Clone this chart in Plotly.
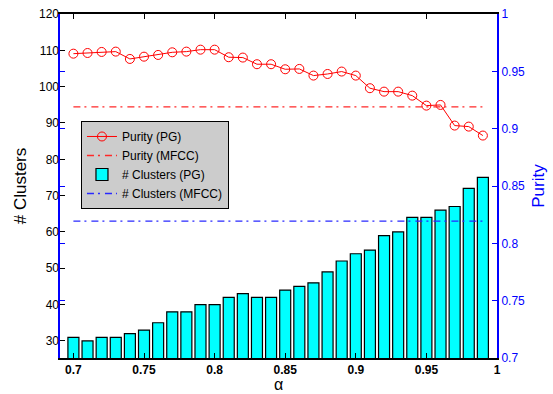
import plotly.graph_objects as go

alpha = [0.70, 0.71, 0.72, 0.73, 0.74, 0.75, 0.76, 0.77, 0.78, 0.79,
         0.80, 0.81, 0.82, 0.83, 0.84, 0.85, 0.86, 0.87, 0.88, 0.89,
         0.90, 0.91, 0.92, 0.93, 0.94, 0.95, 0.96, 0.97, 0.98, 0.99]
clusters_pg = [31, 30, 31, 31, 32, 33, 35, 38, 38, 40,
               40, 42, 43, 42, 42, 44, 45, 46, 49, 52,
               54, 55, 59, 60, 64, 64, 66, 67, 72, 75]
purity_pg = [0.9654, 0.9660, 0.9669, 0.9672, 0.9608, 0.9628, 0.9643, 0.9666, 0.9672, 0.9689,
             0.9689, 0.9623, 0.9620, 0.9562, 0.9562, 0.9518, 0.9521, 0.9463, 0.9477, 0.9498,
             0.9463, 0.9353, 0.9323, 0.9323, 0.9288, 0.9201, 0.9207, 0.9027, 0.9018, 0.8940]
purity_mfcc = 0.919
clusters_mfcc = 63

x_ticks = [0.7, 0.75, 0.8, 0.85, 0.9, 0.95, 1.0]
x_ticktext = ["0.7", "0.75", "0.8", "0.85", "0.9", "0.95", "1"]
left_ticks = [30, 40, 50, 60, 70, 80, 90, 100, 110, 120]
right_ticks = [0.7, 0.75, 0.8, 0.85, 0.9, 0.95, 1.0]
right_ticktext = ["0.7", "0.75", "0.8", "0.85", "0.9", "0.95", "1"]

dashdot = "7px,4px,2px,5px"
FONT = "Liberation Sans, Arial, sans-serif"

fig = go.Figure()
fig.add_trace(go.Scatter(
    x=alpha, y=purity_pg, yaxis="y2", name="Purity (PG)", mode="lines+markers",
    line=dict(color="rgb(255,0,0)", width=1),
    marker=dict(symbol="circle-open", size=9, color="rgb(255,0,0)", line=dict(width=1)),
))
fig.add_trace(go.Scatter(
    x=[alpha[0], alpha[-1]], y=[purity_mfcc, purity_mfcc], yaxis="y2",
    name="Purity (MFCC)", mode="lines",
    line=dict(color="rgb(255,40,40)", width=1.3, dash=dashdot),
))
fig.add_trace(go.Bar(
    x=alpha, y=clusters_pg, name="# Clusters (PG)", width=0.0078,
    marker=dict(color="rgb(0,255,255)", line=dict(color="rgb(0,0,0)", width=1.2)),
))
fig.add_trace(go.Scatter(
    x=[alpha[0], alpha[-1]], y=[clusters_mfcc, clusters_mfcc],
    name="# Clusters (MFCC)", mode="lines",
    line=dict(color="rgb(40,40,255)", width=1.3, dash=dashdot),
))

fig.update_layout(
    width=553, height=394,
    margin=dict(l=60, r=56, t=14, b=36, autoexpand=False),
    paper_bgcolor="white", plot_bgcolor="white",
    font=dict(family=FONT, size=12, color="#000000"),
    showlegend=True,
    legend=dict(
        x=0.048, y=0.689, xanchor="left", yanchor="top",
        bgcolor="#cccccc", bordercolor="#000000", borderwidth=1,
        font=dict(family=FONT, size=12, color="#000000"),
        traceorder="normal",
    ),
    xaxis=dict(
        range=[0.6905, 1.0], tickvals=x_ticks,
        ticktext=["<b>%s</b>" % t for t in x_ticktext],
        ticks="inside", ticklen=5, tickcolor="#000000",
        showline=True, linecolor="#000000", linewidth=1.5, mirror="ticks",
        showgrid=False, zeroline=False, automargin=False,
        tickfont=dict(family=FONT, size=12, color="#000000"),
    ),
    yaxis=dict(
        range=[25.3, 120], tickvals=left_ticks,
        ticks="inside", ticklen=5, tickcolor="#000000",
        showline=False, showgrid=False, zeroline=False, automargin=False,
        tickfont=dict(family=FONT, size=12, color="#000000"),
        title=dict(text="# Clusters", font=dict(family=FONT, size=17, color="#000000"), standoff=8),
    ),
    yaxis2=dict(
        range=[0.7, 1.0], tickvals=right_ticks, ticktext=right_ticktext,
        overlaying="y", side="right",
        ticks="inside", ticklen=5, tickcolor="#0000ff",
        showline=True, linecolor="#0000ff", linewidth=2, mirror="ticks",
        showgrid=False, zeroline=False, automargin=False,
        tickfont=dict(family=FONT, size=12, color="#0000ff"),
        title=dict(text="Purity", font=dict(family=FONT, size=17, color="#0000ff"), standoff=8),
    ),
    annotations=[dict(
        text="α", xref="paper", yref="paper", x=0.5, y=-0.1047,
        xanchor="center", yanchor="bottom", showarrow=False, borderpad=0,
        font=dict(family=FONT, size=16, color="#000000"),
    )],
)

fig.write_html("out.html")
